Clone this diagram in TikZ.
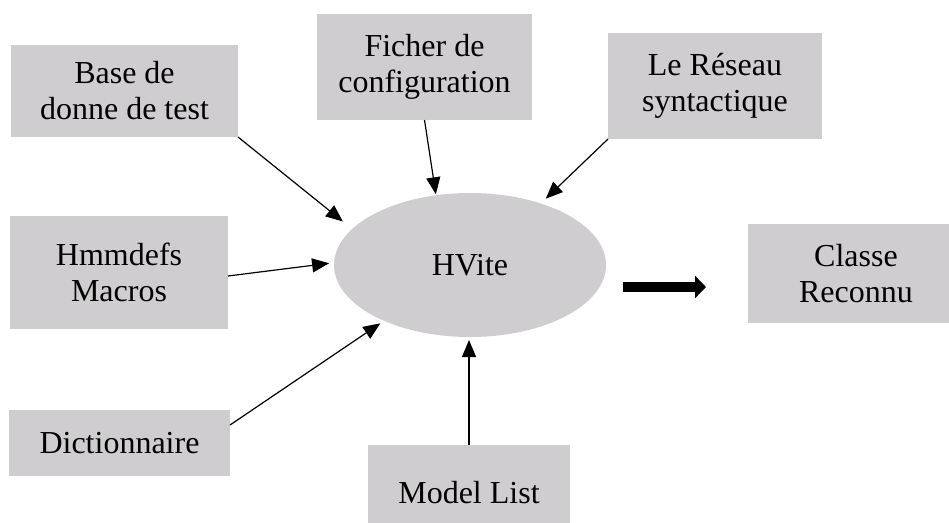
\documentclass[tikz,border=0pt]{standalone}
\usepackage{fontspec}
\setmainfont{Liberation Serif}
\usetikzlibrary{arrows.meta, shapes.geometric}
\definecolor{boxgray}{RGB}{207,205,207}
\tikzset{
  box/.style={fill=boxgray, draw=none, inner sep=0pt, outer sep=0pt,
    align=center, font=\fontsize{32}{36}\selectfont},
  hub/.style={ellipse, fill=boxgray, draw=none, inner sep=0pt, outer sep=0pt,
    minimum width=272pt, minimum height=144pt, font=\fontsize{32}{36}\selectfont},
  feed/.style={draw=black, line width=1.2pt,
    -{Triangle[length=17pt, width=14pt]}},
  bigarrow/.style={draw=black, line width=10pt,
    -{Triangle[length=11pt, width=22pt]}}
}
\begin{document}
\begin{tikzpicture}[x=1pt, y=-1pt]
  \useasboundingbox (0,0) rectangle (949,522);

  % input files around the recogniser
  \node[box, minimum width=227pt, minimum height=92pt]  (base)    at (124.5,91)  {Base de\\donne de test};
  \node[box, minimum width=215pt, minimum height=106pt] (ficher)  at (424.5,67)  {Ficher de\\configuration};
  \node[box, minimum width=214pt, minimum height=106pt] (reseau)  at (715,86)    {Le Réseau\\syntactique};
  \node[box, minimum width=218pt, minimum height=113pt] (hmm)     at (119,272)   {Hmmdefs\\Macros};
  \node[box, minimum width=221pt, minimum height=66pt]  (dict)    at (119.5,443) {Dictionnaire};
  \node[box, minimum width=202pt, minimum height=96pt]  (model)   at (469,493)   {Model List};

  % recogniser and its output
  \node[hub] (hvite) at (470,265) {HVite};
  \node[box, minimum width=216pt, minimum height=99pt]  (classe)  at (856,273.5) {Classe\\Reconnu};

  % inputs feeding HVite
  \draw[feed, shorten >=12pt] (base.south east) -- (hvite.163.6);
  \draw[feed, shorten >=1pt]  (ficher.south) -- (hvite.116.8);
  \draw[feed, shorten >=7pt]  (reseau.south west) -- (hvite.41.4);
  \draw[feed, shorten >=5pt]  ([yshift=-4pt]hmm.east) -- (hvite.179.3);
  \draw[feed, shorten >=4.5pt] ([yshift=-15pt]dict.north east) -- (hvite.213.8);
  \draw[feed, shorten >=3pt]  (model.north) -- (model.north |- hvite.south);

  % recognised class
  \draw[bigarrow, shorten <=17pt, shorten >=42pt]
    ([yshift=-22pt]hvite.east) -- ([yshift=-22pt]hvite.east -| classe.west);
\end{tikzpicture}
\end{document}
